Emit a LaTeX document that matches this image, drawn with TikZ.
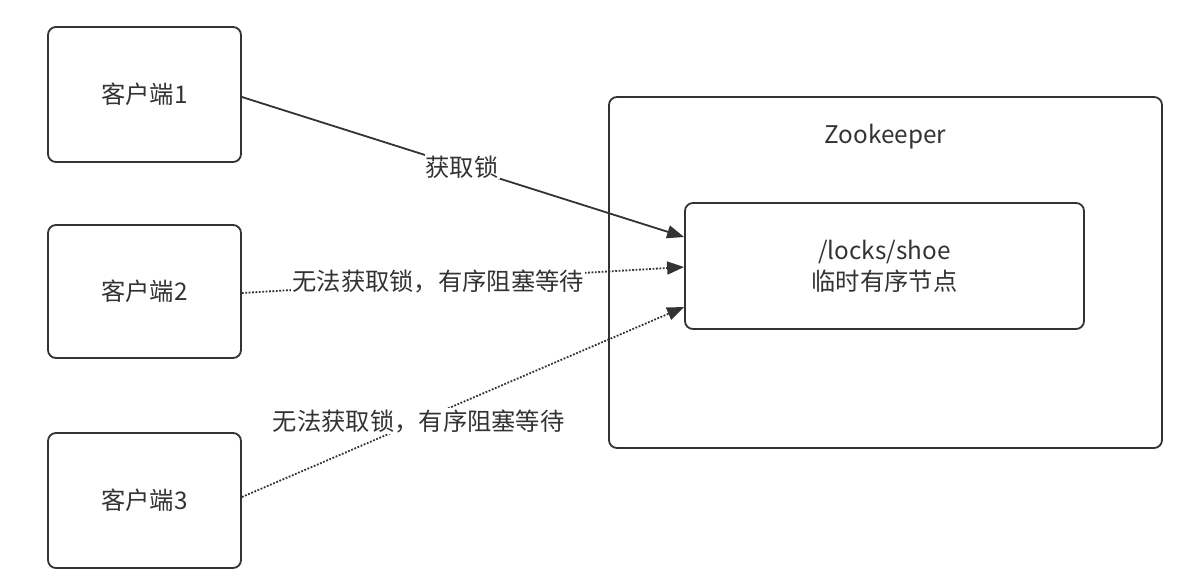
\documentclass[tikz,border=0pt]{standalone}
\usepackage{fontspec}
\setmainfont{Noto Sans CJK SC}
\usetikzlibrary{arrows.meta,calc}
\definecolor{ink}{HTML}{333333}
\begin{document}
\begin{tikzpicture}[x=1pt,y=-1pt,
  every node/.style={font=\fontsize{24.3}{30}\selectfont, text=ink},
  box/.style={draw=ink, line width=1.8pt, rounded corners=8pt, fill=white},
  conn/.style={draw=ink, line width=1.8pt, -{Triangle[length=17pt,width=13pt]}},
  dots/.style={conn, dash pattern=on 1.8pt off 1.6pt},
  lbl/.style={fill=white, inner sep=1pt}]
\useasboundingbox (0,0) rectangle (1196,584);
\node[box, minimum width=193pt, minimum height=135pt] (c1) at (144.5,94.5) {客户端1};
\node[box, minimum width=193pt, minimum height=133pt] (c2) at (144.5,291.5) {客户端2};
\node[box, minimum width=193pt, minimum height=135pt] (c3) at (144.5,500.5) {客户端3};
\node[box, minimum width=553pt, minimum height=351pt] (zk) at (885.5,272.5) {};
\node (zkl) at (885.5,137) {Zookeeper};
\node[box, minimum width=399pt, minimum height=126pt, align=center, font=\fontsize{24.3}{31}\selectfont] (inner) at (884.5,266) {/locks/shoe\\临时有序节点};
\coordinate (t1) at ($(inner.west)+(0,-29)$);
\coordinate (t2) at ($(inner.west)+(0,1)$);
\coordinate (t3) at ($(inner.west)+(0,41)$);
\path[conn] ($(c1.east)+(0,2.5)$) -- (t1) node[lbl, pos=0.498] {获取锁};
\path[dots] ($(c2.east)+(0,1.5)$) -- (t2) node[lbl, pos=0.444] {无法获取锁，有序阻塞等待};
\path[dots] ($(c3.east)+(0,-3.5)$) -- (t3) node[lbl, pos=0.40] {无法获取锁，有序阻塞等待};
\end{tikzpicture}
\end{document}
